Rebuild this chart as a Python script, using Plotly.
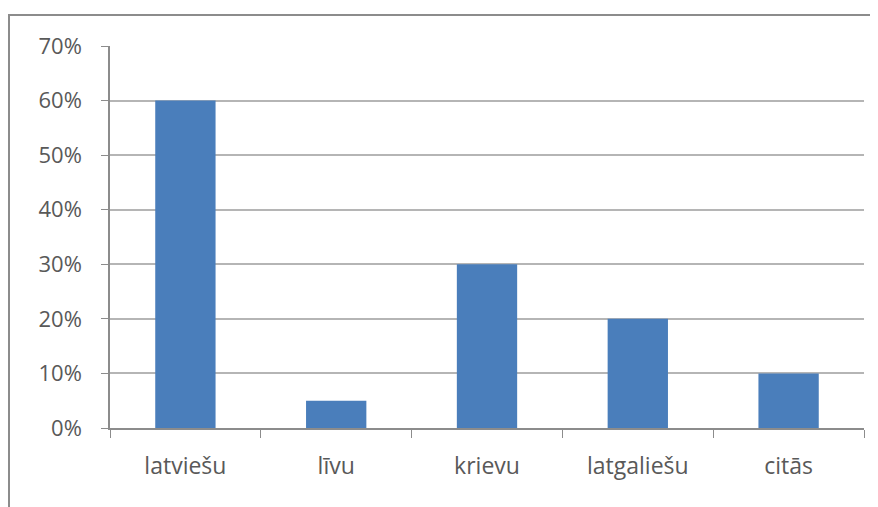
import plotly.graph_objects as go

categories = ["latviešu", "līvu", "krievu", "latgaliešu", "citās"]
values = [0.60, 0.05, 0.30, 0.20, 0.10]
y_ticks = [0, 0.1, 0.2, 0.3, 0.4, 0.5, 0.6, 0.7]
y_tick_labels = ["0%", "10%", "20%", "30%", "40%", "50%", "60%", "70%"]

W, H = 878, 507
OFF = 8  # page offset of the figure
L, T = 110 - OFF, 46 - OFF
pw, ph = 754, 382
R = W - L - pw
B = H - T - ph

fig = go.Figure(go.Bar(
    x=categories, y=values,
    marker=dict(color="#4a7ebb", line=dict(width=0)),
    width=0.4,
))

fig.update_layout(
    width=W, height=H,
    margin=dict(l=L, r=R, t=T, b=B),
    paper_bgcolor="white", plot_bgcolor="white",
    font=dict(family="Open Sans", size=22, color="#595959"),
    showlegend=False,
    xaxis=dict(
        showline=True, linecolor="#8c8c8c", linewidth=1.5,
        ticks="outside", tickson="boundaries", ticklen=8, tickcolor="#8c8c8c",
        ticklabelstandoff=17, tickfont=dict(size=23),
        showgrid=False,
    ),
    yaxis=dict(
        range=[0, 0.7], tickvals=y_ticks, ticktext=y_tick_labels,
        showline=True, linecolor="#8c8c8c", linewidth=1.5,
        ticks="outside", ticklen=7, tickcolor="#8c8c8c",
        showgrid=True, gridcolor="#b5b5b5", gridwidth=1.5,
        zeroline=False, ticklabelstandoff=15,
    ),
    shapes=[dict(
        type="rect", xref="paper", yref="paper",
        x0=(9 - OFF - L) / pw, x1=(W + 10 - L) / pw,
        y0=-(B + 10) / ph, y1=(ph + T - (15 - OFF)) / ph,
        line=dict(color="#8c8c8c", width=2), fillcolor="rgba(0,0,0,0)",
        layer="below",
    )],
)

fig.write_html("out.html")
